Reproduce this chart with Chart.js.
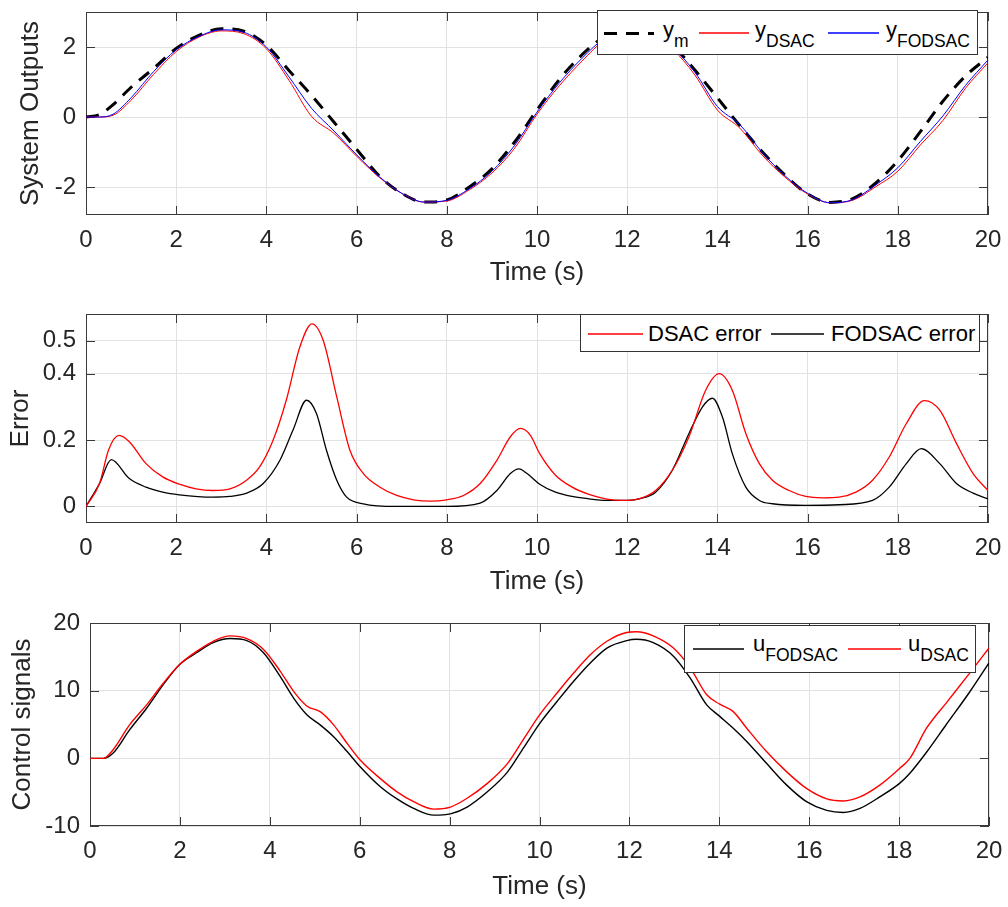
<!DOCTYPE html>
<html lang="en">
<head>
<meta charset="UTF-8">
<title>System outputs, error and control signals</title>
<script src="https://cdn.jsdelivr.net/npm/chart.js"></script>
<style>
  body { margin: 0; background: #fff; width: 1008px; height: 907px; position: relative; overflow: hidden;
         font-family: 'Liberation Sans', Arial, Helvetica, sans-serif; }
  canvas { position: absolute; left: 0; }
  .legend { position: absolute; box-sizing: border-box; border: 1px solid #333; background: #fff; }
  .legend svg { position: absolute; left: 0; top: 0; }
  .legend .lbl { position: absolute; font-size: 22px; line-height: 22px; color: #000; white-space: nowrap; }
  .legend .lbl sub { font-size: 17.5px; line-height: 17px; vertical-align: baseline; position: relative; top: 10px; }
</style>
</head>
<body>
<canvas id="outputs" width="1008" height="300" style="top:0"></canvas>
<canvas id="errors" width="1008" height="300" style="top:300px"></canvas>
<canvas id="controls" width="1008" height="307" style="top:600px"></canvas>

<div class="legend" style="left:597px; top:10px; width:381px; height:45px">
  <svg width="381" height="45">
    <line x1="6" y1="22.5" x2="56" y2="22.5" stroke="#000" stroke-width="3" stroke-dasharray="13 9"/>
    <line x1="101" y1="22" x2="151" y2="22" stroke="#ff0000" stroke-width="1.3"/>
    <line x1="230" y1="22" x2="281" y2="22" stroke="#0000ff" stroke-width="1.3"/>
  </svg>
  <div class="lbl" style="left:65px; top:8px">y<sub>m</sub></div>
  <div class="lbl" style="left:157px; top:8px">y<sub>DSAC</sub></div>
  <div class="lbl" style="left:288px; top:8px">y<sub>FODSAC</sub></div>
</div>

<div class="legend" style="left:580px; top:314px; width:400px; height:38px">
  <svg width="400" height="38">
    <line x1="7" y1="19" x2="62" y2="19" stroke="#ff0000" stroke-width="1.3"/>
    <line x1="190" y1="19" x2="243" y2="19" stroke="#000" stroke-width="1.3"/>
  </svg>
  <div class="lbl" style="left:67px; top:8px">DSAC error</div>
  <div class="lbl" style="left:250px; top:8px">FODSAC error</div>
</div>

<div class="legend" style="left:684px; top:625px; width:292px; height:48px">
  <svg width="292" height="48">
    <line x1="8" y1="23" x2="59" y2="23" stroke="#000" stroke-width="1.3"/>
    <line x1="163" y1="23" x2="216" y2="23" stroke="#ff0000" stroke-width="1.3"/>
  </svg>
  <div class="lbl" style="left:68px; top:7px">u<sub>FODSAC</sub></div>
  <div class="lbl" style="left:223px; top:7px">u<sub>DSAC</sub></div>
</div>

<script>
// ---- data ----
const xTicks = [0, 2, 4, 6, 8, 10, 12, 14, 16, 18, 20];

// top panel: system outputs
const outTime = [0, 0.3, 0.6, 1.0, 1.5, 2.0, 2.5, 3.0, 3.5, 4.0, 4.5, 5.0, 5.5, 6.0, 6.5, 7.0, 7.5, 8.0, 8.5, 9.0, 9.5,
                 10.0, 10.5, 11.0, 11.5, 12.0, 12.5, 13.0, 13.5, 14.0, 14.5, 15.0, 15.5, 16.0, 16.5, 17.0, 17.5, 18.0, 18.5, 19.0, 19.5, 20.0];
const yModel  = [0, 0.07, 0.35, 0.85, 1.39, 1.96, 2.33, 2.52, 2.45, 2.05, 1.33, 0.62, -0.15, -0.92, -1.68, -2.18, -2.43, -2.37, -2.0, -1.48, -0.72,
                 0.2, 1.08, 1.78, 2.3, 2.5, 2.42, 2.05, 1.34, 0.55, -0.25, -1.0, -1.66, -2.2, -2.44, -2.33, -1.9, -1.25, -0.42, 0.45, 1.17, 1.71];
const yDsac   = [0, 0, 0.05, 0.48, 1.22, 1.87, 2.28, 2.46, 2.38, 1.95, 1.05, 0.02, -0.47, -1.12, -1.72, -2.18, -2.43, -2.4, -2.08, -1.6, -0.9,
                 0.08, 0.9, 1.6, 2.2, 2.45, 2.4, 1.95, 1.2, 0.2, -0.32, -1.1, -1.72, -2.2, -2.45, -2.38, -2.0, -1.55, -0.8, -0.1, 0.82, 1.55];
const yFodsac = [0, 0, 0.08, 0.55, 1.3, 1.92, 2.3, 2.49, 2.42, 2.0, 1.15, 0.25, -0.4, -1.08, -1.7, -2.18, -2.43, -2.38, -2.05, -1.55, -0.82,
                 0.14, 0.98, 1.68, 2.25, 2.48, 2.42, 2.0, 1.28, 0.3, -0.22, -1.02, -1.68, -2.18, -2.45, -2.36, -1.95, -1.45, -0.7, 0.03, 0.9, 1.63];
const outTicks = [-2, 0, 2];

// middle panel: tracking error
const errDsacTime = [0, 0.3, 0.5, 0.73, 0.96, 1.33, 1.7, 2.07, 2.44, 2.81, 3.19, 3.56, 3.85, 4.15, 4.44, 4.74, 5.01, 5.26, 5.56, 5.85,
                     6.15, 6.52, 6.89, 7.26, 7.63, 8.0, 8.37, 8.74, 9.11, 9.41, 9.63, 9.85, 10.06, 10.41, 10.78, 11.15, 11.52, 11.89, 12.26, 12.63,
                     13.0, 13.37, 13.74, 14.04, 14.33, 14.63, 14.93, 15.22, 15.59, 15.96, 16.33, 16.7, 17.07, 17.44, 17.81, 18.19, 18.59, 18.93, 19.3, 19.67, 20];
const errDsac = [0, 0.069, 0.17, 0.214, 0.195, 0.129, 0.089, 0.067, 0.053, 0.048, 0.053, 0.079, 0.119, 0.2, 0.32, 0.48, 0.55, 0.50, 0.33, 0.17,
                 0.099, 0.058, 0.033, 0.02, 0.016, 0.02, 0.033, 0.069, 0.139, 0.21, 0.235, 0.215, 0.159, 0.094, 0.058, 0.036, 0.023, 0.018, 0.023, 0.048,
                 0.109, 0.21, 0.35, 0.40, 0.35, 0.22, 0.129, 0.079, 0.048, 0.03, 0.026, 0.028, 0.043, 0.079, 0.149, 0.25, 0.319, 0.29, 0.19, 0.099, 0.048];
const errFodsacTime = [0, 0.3, 0.56, 0.96, 1.33, 1.7, 2.07, 2.81, 3.19, 3.56, 3.93, 4.3, 4.59, 4.89, 5.11, 5.33, 5.56, 5.78, 6.15, 6.89,
                       8.0, 8.74, 9.11, 9.41, 9.6, 9.78, 10.06, 10.41, 10.78, 11.15, 11.52, 11.89, 12.26, 12.63, 13.0, 13.37, 13.67, 13.89, 14.11, 14.33,
                       14.63, 14.93, 15.22, 15.96, 16.7, 17.44, 17.81, 18.19, 18.52, 18.93, 19.3, 19.67, 20];
const errFodsac = [0, 0.069, 0.141, 0.084, 0.058, 0.043, 0.035, 0.028, 0.03, 0.04, 0.069, 0.139, 0.23, 0.32, 0.28, 0.17, 0.079, 0.028, 0.008, 0.0,
                   0.0, 0.01, 0.048, 0.099, 0.113, 0.099, 0.067, 0.043, 0.03, 0.023, 0.018, 0.018, 0.023, 0.043, 0.109, 0.22, 0.30, 0.326, 0.27, 0.159,
                   0.058, 0.018, 0.008, 0.003, 0.005, 0.018, 0.058, 0.129, 0.174, 0.129, 0.069, 0.04, 0.023];
const errTicks = [0, 0.2, 0.4, 0.5];

// bottom panel: control signals
const ctrlTime = [0, 0.3, 0.51, 0.88, 1.26, 1.63, 2.0, 2.37, 2.74, 3.12, 3.49, 3.86, 4.23, 4.53, 4.83, 5.12, 5.42, 5.72, 6.01, 6.46,
                  6.83, 7.2, 7.65, 8.02, 8.39, 8.84, 9.29, 9.66, 10.01, 10.39, 10.76, 11.13, 11.5, 11.94, 12.16, 12.53, 12.98, 13.35, 13.72, 14.01,
                  14.31, 14.61, 15.05, 15.5, 15.94, 16.39, 16.76, 17.13, 17.57, 18.01, 18.24, 18.61, 19.05, 19.57, 20];
const uFodsac = [0, 0, 0.74, 4.2, 7.4, 10.9, 13.9, 15.6, 17.1, 17.7, 17.4, 15.6, 12.1, 8.9, 6.4, 4.95, 3.2, 1.0, -1.24, -4.2,
                 -6.0, -7.4, -8.4, -8.2, -7.2, -4.95, -2.0, 1.7, 5.2, 8.4, 11.4, 14.1, 16.3, 17.4, 17.6, 17.1, 15.1, 11.9, 7.9, 6.2,
                 4.45, 2.5, -0.74, -3.96, -6.4, -7.7, -8.0, -7.4, -5.7, -3.7, -2.2, 0.9, 5.0, 9.8, 14.1];
const uDsac = [0, 0, 1.24, 4.95, 7.9, 11.1, 13.9, 15.8, 17.3, 18.1, 17.7, 16.1, 12.9, 9.9, 7.7, 6.9, 4.95, 2.2, -0.25, -3.0,
               -4.95, -6.4, -7.5, -7.2, -5.9, -3.7, -0.74, 3.0, 6.5, 9.65, 12.6, 15.3, 17.3, 18.6, 18.7, 18.1, 16.3, 13.4, 9.4, 8.0,
               6.9, 4.45, 1.0, -2.0, -4.45, -6.0, -6.3, -5.7, -3.96, -1.5, 0, 4.45, 8.2, 12.6, 16.3];
const ctrlTicks = [-10, 0, 10, 20];

// ---- helpers ----
const FONT = "'Liberation Sans', Arial, Helvetica, sans-serif";
const INK = '#262626';
Chart.defaults.font.family = FONT;
Chart.defaults.color = INK;

const pts = (xs, ys) => xs.map((x, i) => ({ x: x, y: ys[i] }));

const line = (label, xs, ys, color, width, dash) => ({
  label: label,
  data: pts(xs, ys),
  borderColor: color,
  borderWidth: width,
  borderDash: dash || [],
  pointRadius: 0,
  fill: false,
  cubicInterpolationMode: 'monotone'
});

// box around the axes plus inward tick marks on all four sides
const frame = {
  id: 'frame',
  beforeDatasetsDraw(chart) {
    const { ctx, chartArea: a, scales: { x, y } } = chart;
    const len = 9;
    ctx.save();
    ctx.strokeStyle = '#3a3a3a';
    ctx.lineWidth = 1;
    ctx.beginPath();
    x.ticks.forEach(t => {
      const p = Math.round(x.getPixelForValue(t.value)) + 0.5;
      ctx.moveTo(p, a.bottom); ctx.lineTo(p, a.bottom - len);
      ctx.moveTo(p, a.top); ctx.lineTo(p, a.top + len);
    });
    y.ticks.forEach(t => {
      const p = Math.round(y.getPixelForValue(t.value)) + 0.5;
      ctx.moveTo(a.left, p); ctx.lineTo(a.left + len, p);
      ctx.moveTo(a.right, p); ctx.lineTo(a.right - len, p);
    });
    ctx.stroke();
    ctx.strokeRect(a.left + 0.5, a.top + 0.5, a.right - a.left - 1, a.bottom - a.top - 1);
    ctx.restore();
  }
};

function panel(id, box, datasets, yMin, yMax, yTicks, yTitle, yTitlePad, xTitlePad) {
  const canvas = document.getElementById(id);
  const W = canvas.width, H = canvas.height;
  return new Chart(canvas, {
    type: 'line',
    data: { datasets: datasets },
    plugins: [frame],
    options: {
      responsive: false,
      animation: false,
      devicePixelRatio: 1,
      layout: { padding: { top: box.top, right: W - box.right, left: 0, bottom: 0 } },
      plugins: { legend: { display: false }, tooltip: { enabled: false } },
      scales: {
        x: {
          type: 'linear',
          min: 0, max: 20,
          afterBuildTicks: s => { s.ticks = xTicks.map(v => ({ value: v })); },
          afterFit: s => { s.height = H - box.bottom; s.paddingLeft = 0; s.paddingRight = 0; },
          grid: { color: '#e2e2e2', lineWidth: 1, drawTicks: false },
          border: { display: false },
          ticks: { padding: 11, maxRotation: 0, autoSkip: false, color: INK, font: { size: 24 } },
          title: { display: true, text: 'Time (s)', color: INK, font: { size: 26, lineHeight: 1 }, padding: { top: 0, bottom: xTitlePad } }
        },
        y: {
          type: 'linear',
          min: yMin, max: yMax,
          afterBuildTicks: s => { s.ticks = yTicks.map(v => ({ value: v })); },
          afterFit: s => { s.width = box.left; s.paddingTop = 0; s.paddingBottom = 0; },
          grid: { color: '#e2e2e2', lineWidth: 1, drawTicks: false },
          border: { display: false },
          ticks: { padding: 10, autoSkip: false, color: INK, font: { size: 24 }, callback: v => String(v) },
          title: { display: true, text: yTitle, color: INK, font: { size: 26, lineHeight: 1 }, padding: { top: yTitlePad, bottom: 0 } }
        }
      }
    }
  });
}

panel('outputs', { left: 86, right: 988, top: 12, bottom: 215 }, [
  line('y_FODSAC', outTime, yFodsac, '#0000ff', 1),
  line('y_DSAC', outTime, yDsac, '#ff0000', 1),
  line('y_m', outTime, yModel, '#000000', 3, [13, 9])
], -2.8, 3, outTicks, 'System Outputs', 18, 14);

panel('errors', { left: 86, right: 988, top: 14, bottom: 223 }, [
  line('DSAC error', errDsacTime, errDsac, '#ff0000', 1.3),
  line('FODSAC error', errFodsacTime, errFodsac, '#000000', 1.3)
], -0.05, 0.58, errTicks, 'Error', 7.5, 5);

panel('controls', { left: 90, right: 989, top: 23, bottom: 226 }, [
  line('u_DSAC', ctrlTime, uDsac, '#ff0000', 1.4),
  line('u_FODSAC', ctrlTime, uFodsac, '#000000', 1.4)
], -10, 20, ctrlTicks, 'Control signals', 10, 7);
</script>
</body>
</html>
